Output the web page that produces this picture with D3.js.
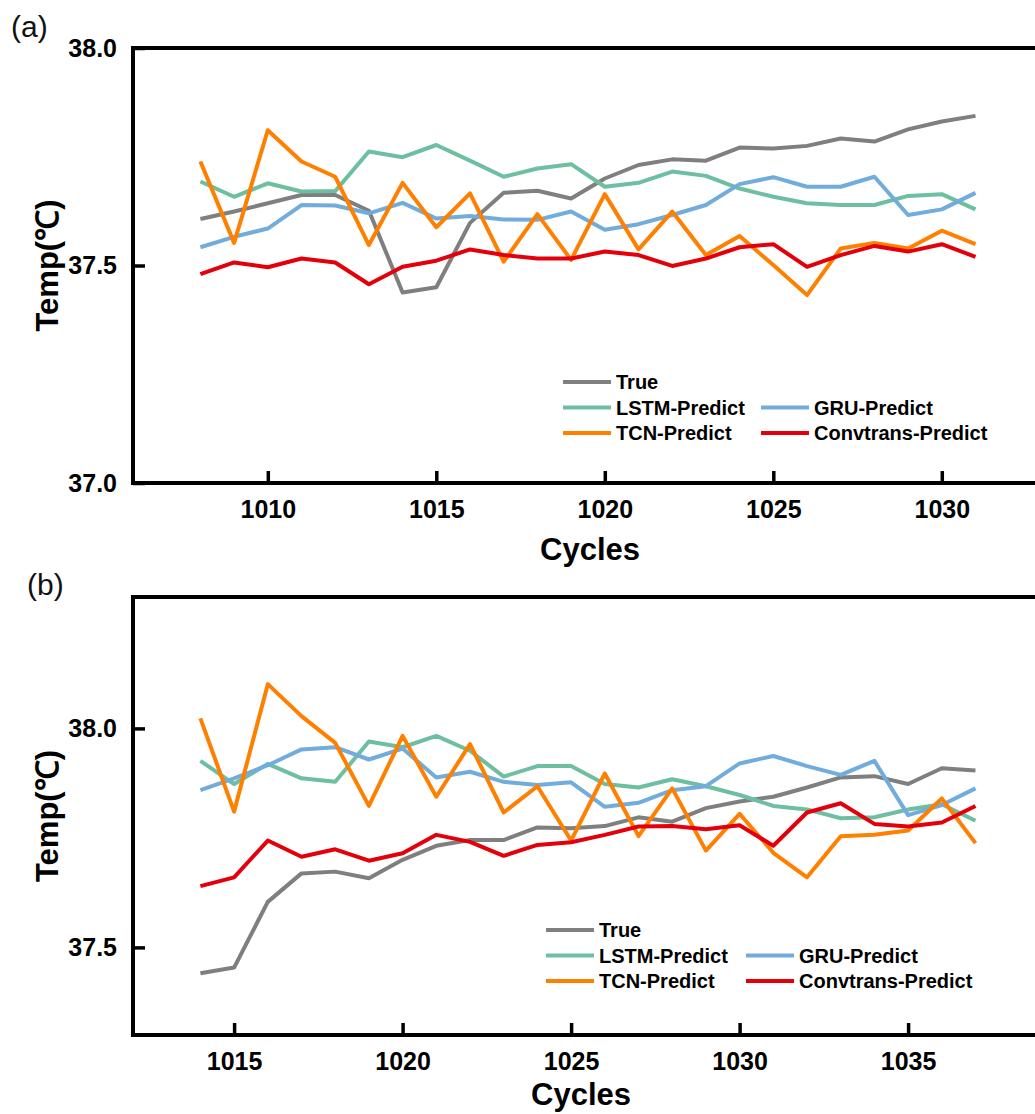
<!DOCTYPE html>
<html>
<head>
<meta charset="utf-8">
<script src="https://cdn.jsdelivr.net/npm/d3@7"></script>
<style>
  html, body { margin: 0; padding: 0; background: #ffffff; }
  svg { display: block; font-family: "Liberation Sans", Arial, sans-serif; }
</style>
</head>
<body>
<svg id="chart" width="1035" height="1114"></svg>
<script>
// panel (a): cycles 1008-1031
const cyclesA = d3.range(1008, 1032);
const trueA = [37.607, 37.624, 37.643, 37.662, 37.662, 37.626, 37.438, 37.450, 37.598, 37.667, 37.672, 37.654,
  37.700, 37.731, 37.744, 37.741, 37.771, 37.769, 37.775, 37.792, 37.785, 37.813, 37.831, 37.844];
const lstmA = [37.693, 37.658, 37.689, 37.670, 37.671, 37.762, 37.749, 37.777, 37.741, 37.704, 37.723, 37.733,
  37.681, 37.690, 37.716, 37.706, 37.677, 37.658, 37.643, 37.639, 37.639, 37.660, 37.664, 37.629];
const gruA = [37.542, 37.566, 37.585, 37.639, 37.638, 37.620, 37.644, 37.608, 37.614, 37.606, 37.605, 37.624,
  37.582, 37.595, 37.616, 37.639, 37.687, 37.703, 37.681, 37.681, 37.704, 37.616, 37.629, 37.667];
const tcnA = [37.739, 37.552, 37.811, 37.739, 37.704, 37.547, 37.690, 37.588, 37.666, 37.509, 37.618, 37.513,
  37.664, 37.537, 37.624, 37.524, 37.568, 37.501, 37.432, 37.539, 37.552, 37.539, 37.580, 37.549];
const convA = [37.480, 37.507, 37.496, 37.516, 37.507, 37.457, 37.497, 37.511, 37.537, 37.524, 37.516, 37.516,
  37.532, 37.524, 37.499, 37.516, 37.542, 37.549, 37.497, 37.524, 37.545, 37.532, 37.549, 37.520];

// panel (b): cycles 1014-1037
const cyclesB = d3.range(1014, 1038);
const trueB = [37.441, 37.454, 37.604, 37.669, 37.673, 37.658, 37.700, 37.732, 37.745, 37.745, 37.774, 37.772,
  37.777, 37.797, 37.787, 37.818, 37.833, 37.844, 37.865, 37.888, 37.891, 37.873, 37.909, 37.904];
const lstmB = [37.926, 37.873, 37.919, 37.886, 37.878, 37.970, 37.957, 37.983, 37.949, 37.890, 37.914, 37.914,
  37.873, 37.865, 37.884, 37.868, 37.848, 37.823, 37.815, 37.795, 37.797, 37.815, 37.827, 37.789];
const gruB = [37.859, 37.886, 37.916, 37.952, 37.957, 37.929, 37.954, 37.888, 37.901, 37.878, 37.871, 37.877,
  37.821, 37.830, 37.859, 37.868, 37.920, 37.937, 37.914, 37.894, 37.926, 37.802, 37.825, 37.863];
const tcnB = [38.023, 37.810, 38.101, 38.028, 37.967, 37.823, 37.983, 37.844, 37.964, 37.808, 37.868, 37.744,
  37.897, 37.754, 37.863, 37.721, 37.805, 37.716, 37.660, 37.754, 37.757, 37.767, 37.840, 37.738];
const convB = [37.640, 37.660, 37.744, 37.707, 37.724, 37.698, 37.715, 37.757, 37.741, 37.709, 37.734, 37.740,
  37.757, 37.776, 37.777, 37.770, 37.779, 37.732, 37.808, 37.829, 37.782, 37.776, 37.785, 37.823];

const seriesNames = ["True", "LSTM-Predict", "GRU-Predict", "TCN-Predict", "Convtrans-Predict"];
const seriesColors = ["#7f7f7f", "#6dbf9f", "#72acdc", "#ff8000", "#e3000b"];
const yTicksA = [37.0, 37.5, 38.0];
const yTicksB = [37.5, 38.0];
const xTicksA = [1010, 1015, 1020, 1025, 1030];
const xTicksB = [1015, 1020, 1025, 1030, 1035];

const svg = d3.select("#chart");
const width = 1035;
const left = 133;
const pxPerCycle = 33.7;
const bold = "bold";

const panels = [
  {
    tag: "(a)", tagX: 11, tagY: 37,
    top: 48, bottom: 483, yDomain: [37.0, 38.0], yTicks: yTicksA,
    xStart: 1006, xTicks: xTicksA, cycles: cyclesA,
    values: [trueA, lstmA, gruA, tcnA, convA],
    titleX: 590, titleY: 560, legendX: 563, legendY: 382, legendCol: 198
  },
  {
    tag: "(b)", tagX: 27, tagY: 595,
    top: 597, bottom: 1035, yDomain: [37.3, 38.3], yTicks: yTicksB,
    xStart: 1012, xTicks: xTicksB, cycles: cyclesB,
    values: [trueB, lstmB, gruB, tcnB, convB],
    titleX: 581, titleY: 1105, legendX: 546, legendY: 930, legendCol: 200
  }
];

function drawPanel(p) {
  const g = svg.append("g");
  const x = d3.scaleLinear()
    .domain([p.xStart, p.xStart + 30])
    .range([left, left + 30 * pxPerCycle]);
  const y = d3.scaleLinear().domain(p.yDomain).range([p.bottom, p.top]);

  // panel tag
  g.append("text")
    .attr("x", p.tagX)
    .attr("y", p.tagY)
    .attr("font-size", 30)
    .attr("fill", "#111")
    .text(p.tag);

  // series lines
  const line = d3.line()
    .x((d) => x(d.c))
    .y((d) => y(d.v));

  p.values.forEach((vals, i) => {
    const rows = p.cycles.map((c, j) => ({ c, v: vals[j] }));
    g.append("path")
      .datum(rows)
      .attr("fill", "none")
      .attr("stroke", seriesColors[i])
      .attr("stroke-width", 4)
      .attr("stroke-linejoin", "round")
      .attr("d", line);
  });

  // axes (ticks point inward)
  const yAxis = g.append("g")
    .attr("transform", `translate(${left},0)`)
    .call(d3.axisLeft(y).tickValues(p.yTicks).tickSize(-12).tickPadding(16).tickFormat(d3.format(".1f")));
  const xAxis = g.append("g")
    .attr("transform", `translate(0,${p.bottom})`)
    .call(d3.axisBottom(x).tickValues(p.xTicks).tickSize(-12).tickPadding(17).tickFormat(d3.format("d")));

  [yAxis, xAxis].forEach((ax) => {
    ax.select(".domain").remove();
    ax.selectAll(".tick line").attr("stroke", "#000").attr("stroke-width", 3.5);
    ax.selectAll(".tick text")
      .attr("fill", "#000")
      .attr("font-size", 25)
      .attr("font-weight", bold)
      .attr("font-family", "'Liberation Sans', Arial, sans-serif");
  });

  // spines: left, top, bottom (right side runs past the picture)
  g.append("path")
    .attr("fill", "none")
    .attr("stroke", "#000")
    .attr("stroke-width", 4)
    .attr("stroke-linecap", "square")
    .attr("d", `M${width + 5},${p.top}H${left}V${p.bottom}H${width + 5}`);

  // axis titles
  g.append("text")
    .attr("x", p.titleX)
    .attr("y", p.titleY)
    .attr("text-anchor", "middle")
    .attr("font-size", 31)
    .attr("font-weight", bold)
    .text("Cycles");

  g.append("text")
    .attr("transform", `translate(58,${(p.top + p.bottom) / 2}) rotate(-90)`)
    .attr("text-anchor", "middle")
    .attr("font-size", 31)
    .attr("font-weight", bold)
    .text("Temp(℃)");

  // legend: True alone on first row, then two columns
  const slots = [[0, 0], [1, 0], [1, 1], [2, 0], [2, 1]];
  const legend = g.append("g");
  seriesNames.forEach((name, i) => {
    const [row, col] = slots[i];
    const lx = p.legendX + col * p.legendCol;
    const ly = p.legendY + row * 25.5;
    legend.append("line")
      .attr("x1", lx).attr("x2", lx + 48)
      .attr("y1", ly).attr("y2", ly)
      .attr("stroke", seriesColors[i])
      .attr("stroke-width", 4);
    legend.append("text")
      .attr("x", lx + 53)
      .attr("y", ly)
      .attr("dy", "0.35em")
      .attr("font-size", 20)
      .attr("font-weight", bold)
      .attr("fill", "#000")
      .text(name);
  });
}

panels.forEach(drawPanel);
</script>
</body>
</html>
